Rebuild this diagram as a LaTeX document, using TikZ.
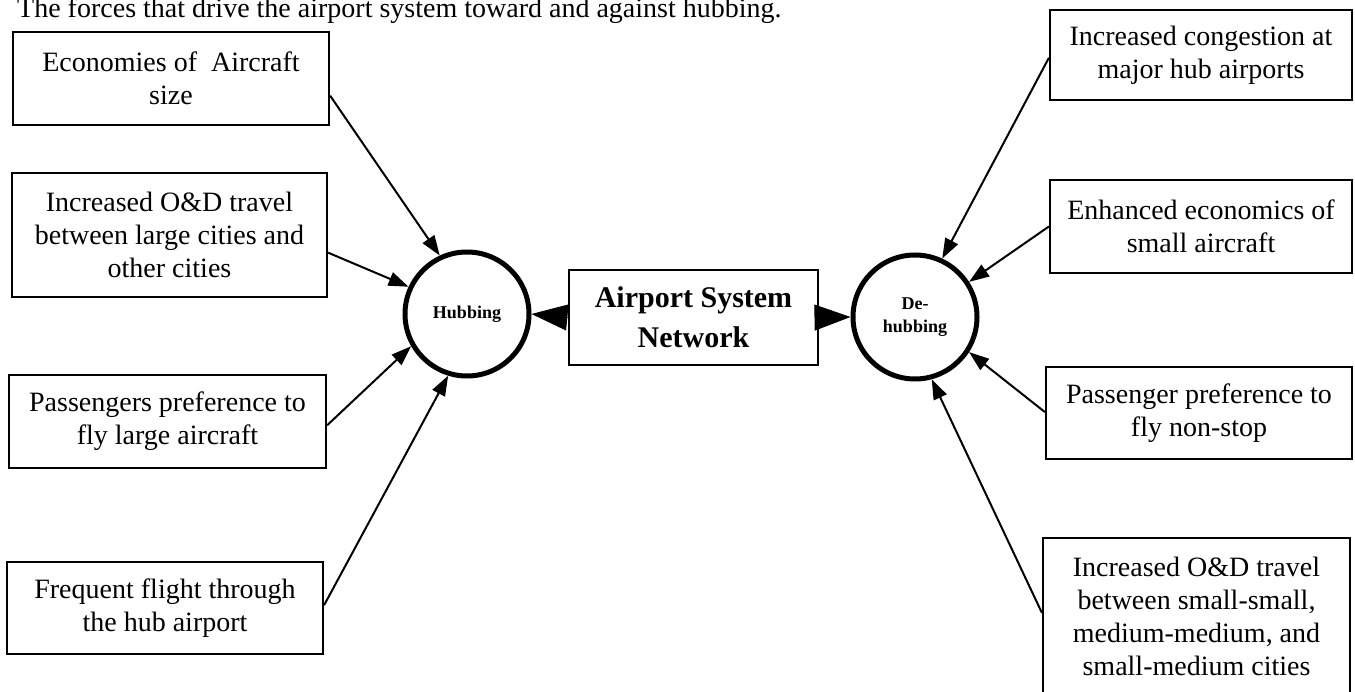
\documentclass[tikz,border=0pt]{standalone}
\usepackage{fontspec}
\setmainfont{Liberation Serif}
\usetikzlibrary{arrows.meta,calc}
\begin{document}
\begin{tikzpicture}[x=1pt,y=-1pt,
  box/.style={draw, line width=2.2pt, align=center, inner sep=0pt, font=\fontsize{28}{33}\selectfont},
  hubc/.style={draw, circle, line width=5pt, minimum size=124pt, inner sep=0pt, align=center, font=\fontsize{18}{23}\selectfont\bfseries},
  force/.style={line width=2pt, -{Triangle[length=20pt,width=14pt]}},
  big/.style={line width=1pt, -{Triangle[length=36pt,width=26pt]}}]
\useasboundingbox (0,0) rectangle (1355,692);
\clip (0,0) rectangle (1355,692);
\node[anchor=base west, inner sep=0pt, font=\fontsize{28}{33}\selectfont] (title) at (17,18) {The forces that drive the airport system toward and against hubbing.};
% left boxes
\node[box, minimum width=316pt, minimum height=93pt] (b1) at (171,78.5) {Economies of~ Aircraft\\size};
\node[box, minimum width=315pt, minimum height=124pt] (b2) at (169.5,235) {Increased O\&D travel\\between large cities and\\other cities};
\node[box, minimum width=317pt, minimum height=93pt] (b3) at (167.5,421.5) {Passengers preference to\\fly large aircraft};
\node[box, minimum width=316pt, minimum height=92pt] (b4) at (165,608) {Frequent flight through\\the hub airport};
% right boxes
\node[box, minimum width=302pt, minimum height=90pt] (r1) at (1201,55) {Increased congestion at\\major hub airports};
\node[box, minimum width=302pt, minimum height=93pt] (r2) at (1201,226.5) {Enhanced economics of\\small aircraft};
\node[box, minimum width=306pt, minimum height=92pt] (r3) at (1199,413) {Passenger preference to\\fly non-stop};
\node[box, minimum width=307pt, minimum height=156pt] (r4) at (1196.5,616) {Increased O\&D travel\\between small-small,\\medium-medium, and\\small-medium cities};
% center
\node[box, line width=2.6pt, minimum width=249pt, minimum height=95pt, font=\fontsize{30}{40}\selectfont\bfseries] (net) at (693.5,317.5) {Airport System\\Network};
\node[hubc] (hub) at (467,314) {Hubbing};
\node[hubc] (dehub) at (915,317) {De-\\hubbing};
\draw[big] (net.west) -- (hub.east);
\draw[big] (net.east) -- (dehub.west);
% forces toward hubbing
\draw[force] ($(b1.north east)!0.68!(b1.south east)$) -- (hub.115);
\draw[force] ($(b2.north east)!0.64!(b2.south east)$) -- (hub.155);
\draw[force] ($(b3.north east)!0.54!(b3.south east)$) -- (hub.210);
\draw[force] ($(b4.north east)!0.47!(b4.south east)$) -- (hub.253);
% forces toward de-hubbing
\draw[force] ($(r1.north west)!0.53!(r1.south west)$) -- (dehub.65);
\draw[force] ($(r2.north west)!0.5!(r2.south west)$) -- (dehub.33);
\draw[force] ($(r3.north west)!0.49!(r3.south west)$) -- (dehub.-33);
\draw[force] ($(r4.north west)!0.48!(r4.south west)$) -- (dehub.-75);
\end{tikzpicture}
\end{document}
